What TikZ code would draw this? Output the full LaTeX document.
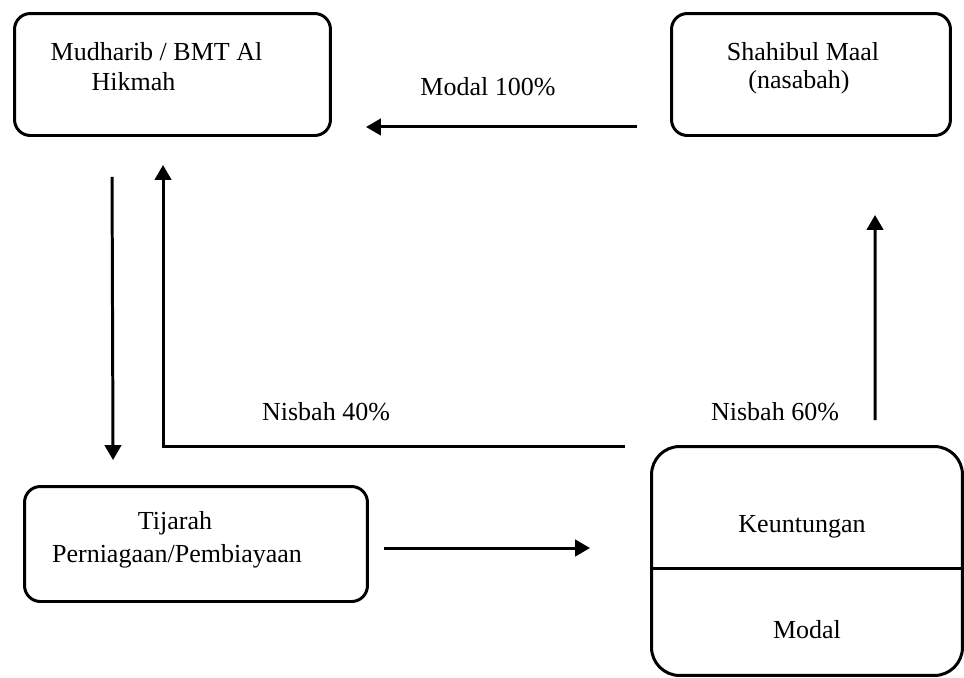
\documentclass[tikz,border=0pt]{standalone}
\usepackage{fontspec}
\setmainfont{Liberation Serif}
\usetikzlibrary{arrows.meta,calc}

\begin{document}
\begin{tikzpicture}[x=0.02cm, y=-0.02cm, line width=1.7pt,
    box/.style={draw, rounded corners=9pt, inner sep=0pt},
    arr/.style={-{Triangle[length=3mm,width=3.3mm]}},
    txt/.style={font=\fontsize{14.8}{17.6}\selectfont, inner sep=0pt}]
    \useasboundingbox (0,0) rectangle (964,677);

    % Boxes
    \node[box, minimum width=6.32cm, minimum height=2.44cm] (mudharib) at (172.5,74.5) {};
    \node[box, minimum width=5.58cm, minimum height=2.44cm] (shahibul) at (811,74.5) {};
    \node[box, minimum width=6.86cm, minimum height=2.3cm] (tijarah) at (196,544) {};
    \node[box, rounded corners=16pt, minimum width=6.22cm, minimum height=4.58cm] (hasil) at (807,561) {};
    \draw ($(hasil.west)+(0,7)$) -- ($(hasil.east)+(0,7)$);

    % Texts
    \node[txt] (mudharib1) at (156.5,52) {Mudharib / BMT Al};
    \node[txt] (mudharib2) at (133.5,82) {Hikmah};
    \node[txt] (shahibul1) at (803,52) {Shahibul Maal};
    \node[txt] (shahibul2) at (799,82) {(nasabah)};
    \node[txt] (tijarah1) at (175,523) {Tijarah};
    \node[txt] (tijarah2) at (177,556) {Perniagaan/Pembiayaan};
    \node[txt] (untung) at (802,527) {Keuntungan};
    \node[txt] (modal) at (807,630) {Modal};

    % Flows
    \draw[arr] ($(shahibul.south west)+(-33,-10)$) -- ($(mudharib.south east)+(34,-10)$);
    \node[txt] (modal100) at (488,87) {Modal 100\%};
    \draw[arr] ($(mudharib.south west)+(99,40)$) -- ($(tijarah.north west)+(90,-25)$);
    \draw[arr] ($(tijarah.east)+(15,4)$) -- ($(hasil.west)+(-60,-13)$);
    \draw[arr] ($(hasil.north west)+(-25,1)$) -| ($(mudharib.south west)+(150,28)$);
    \node[txt] (nisbah40) at (326,412) {Nisbah 40\%};
    \draw[arr] ($(hasil.north west)+(225,-25)$) -- ($(shahibul.south west)+(205,78)$);
    \node[txt] (nisbah60) at (775,412) {Nisbah 60\%};
\end{tikzpicture}
\end{document}
